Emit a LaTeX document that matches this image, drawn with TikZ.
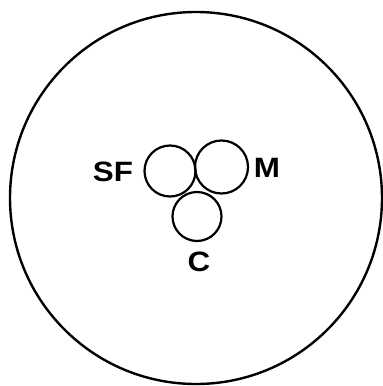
\documentclass[tikz,border=0pt]{standalone}
\usepackage{fontspec}
\setsansfont{Liberation Sans}
\begin{document}
\begin{tikzpicture}[x=1pt,y=-1pt,
  disc/.style={draw,circle,line width=2.2pt,inner sep=0pt,minimum size=51pt},
  tag/.style={font=\sffamily\bfseries\fontsize{28}{28}\selectfont,xscale=1.12,inner sep=0pt}]
\useasboundingbox (0,0) rectangle (383,386);
\draw[line width=2.4pt] (196,198) circle (186);
\node[disc] (sf) at (170,171) {};
\node[disc,minimum size=53pt] (m) at (221.5,167) {};
\node[disc,minimum size=49pt] (c) at (197,216.5) {};
\node[tag] (sflabel) at (113,172) {SF};
\node[tag] (mlabel) at (267,168) {M};
\node[tag] (clabel) at (199,262) {C};
\end{tikzpicture}
\end{document}
